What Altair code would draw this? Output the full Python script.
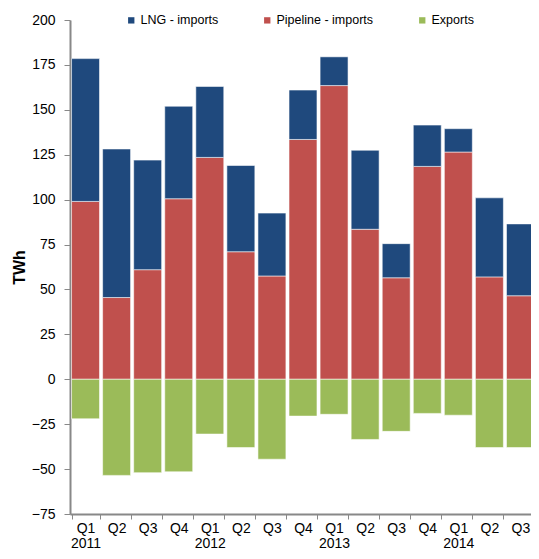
import altair as alt
import pandas as pd

quarters = ["2011 Q1", "2011 Q2", "2011 Q3", "2011 Q4",
            "2012 Q1", "2012 Q2", "2012 Q3", "2012 Q4",
            "2013 Q1", "2013 Q2", "2013 Q3", "2013 Q4",
            "2014 Q1", "2014 Q2", "2014 Q3"]
pipeline = [99, 45.5, 61, 100.5, 123.5, 71, 57.5, 133.5, 163.5, 83.5, 56.5, 118.5, 126.5, 57, 46.5]
lng = [79.5, 82.7, 61, 51.5, 39.5, 48, 35, 27.5, 16, 44, 19, 23, 13, 44, 40]
exports = [-22, -53.5, -52, -51.5, -30.5, -38, -44.5, -20.5, -19.5, -33.5, -29, -19, -20, -38, -38]

series = ["LNG - imports", "Pipeline - imports", "Exports"]
colors = ["#1F497D", "#C0504D", "#9BBB59"]

rows = []
for i, q in enumerate(quarters):
    rows.append({"q": q, "s": "Pipeline - imports", "v": pipeline[i], "o": 0})
    rows.append({"q": q, "s": "LNG - imports", "v": lng[i], "o": 1})
    rows.append({"q": q, "s": "Exports", "v": exports[i], "o": 2})
df = pd.DataFrame(rows)

label_expr = ("split(datum.value, ' ')[1] == 'Q1' ? "
              "[split(datum.value, ' ')[1], split(datum.value, ' ')[0]] : "
              "split(datum.value, ' ')[1]")

chart = alt.Chart(df).mark_bar(stroke="white", strokeWidth=1, strokeOpacity=0.55).encode(
    x=alt.X("q:N", sort=quarters, title=None,
            scale=alt.Scale(paddingInner=0.1, paddingOuter=0.05, range=[0, 466]),
            axis=alt.Axis(labelAngle=0, labelExpr=label_expr, tickBand="extent",
                          labelFontSize=14, labelColor="black", labelFont="Liberation Sans",
                          labelLineHeight=15, labelPadding=2,
                          domainColor="#888888", domainWidth=2, tickColor="#888888",
                          tickSize=5, tickWidth=1)),
    y=alt.Y("v:Q", title="TWh",
            scale=alt.Scale(domain=[-75, 200], nice=False),
            axis=alt.Axis(values=list(range(-75, 201, 25)), grid=False,
                          labelFontSize=14, labelColor="black", labelFont="Liberation Sans",
                          labelPadding=9,
                          titleFontSize=16, titleFont="Liberation Sans", titleFontWeight="bold",
                          titleColor="black", titlePadding=4,
                          domainColor="#888888", domainWidth=2, tickColor="#888888",
                          tickSize=6, tickWidth=1)),
    color=alt.Color("s:N", title=None,
                    scale=alt.Scale(domain=series, range=colors),
                    legend=alt.Legend(orient="none", legendX=55, legendY=-6,
                                      direction="horizontal", symbolType="square",
                                      symbolSize=40, symbolStrokeWidth=0,
                                      labelFontSize=12.5, labelFont="Liberation Sans",
                                      labelColor="black", labelOffset=3,
                                      columnPadding=42, padding=0)),
    order=alt.Order("o:Q"),
).properties(
    width=461, height=494,
    autosize=alt.AutoSizeParams(type="none"),
    padding={"left": 62, "top": 12, "right": 0, "bottom": 37},
).configure_view(stroke=None)

chart.save("out.html", embed_options={"renderer": "svg", "actions": False})
